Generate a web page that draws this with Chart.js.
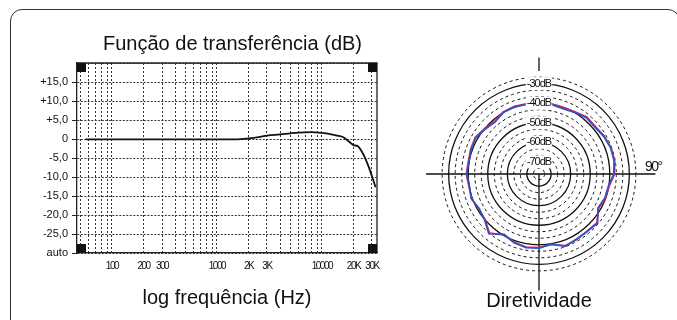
<!DOCTYPE html>
<html>
<head>
<meta charset="utf-8">
<script src="https://cdn.jsdelivr.net/npm/chart.js@4.4.1/dist/chart.umd.min.js"></script>
<style>
  html, body { margin: 0; padding: 0; background: #fff; }
  body { width: 677px; height: 320px; position: relative; overflow: hidden; }
  .moldura { position: absolute; left: 10px; top: 9px; width: 670px; height: 400px; border: 1px solid #333; border-radius: 12px; box-sizing: border-box; }
  #resposta { position: absolute; left: 0; top: 0; }
  #polar { position: absolute; left: 419px; top: 0; }
</style>
</head>
<body>
<div class="moldura"></div>
<canvas id="resposta" width="465" height="320"></canvas>
<canvas id="polar" width="258" height="320"></canvas>
<script>
const FONTE = "'Liberation Sans', Arial, sans-serif";

// resposta em frequência
const FREQ_HZ = [56, 100, 200, 500, 1000, 1500, 2000, 2500, 3000, 4000, 5000, 6000, 8000, 10000, 12000, 14000, 16000, 18000, 20000, 22000, 24000, 26000, 28000, 30000, 32500];
const GANHO_DB = [-0.1, -0.1, -0.1, -0.1, -0.1, -0.1, 0.15, 0.5, 0.9, 1.2, 1.5, 1.7, 1.8, 1.6, 1.3, 0.9, 0.45, -0.6, -1.6, -1.9, -3.3, -5.2, -7.4, -9.8, -12.7];

// grade do eixo x (log) e rótulos
const GRADE_HZ = [50, 60, 70, 80, 90, 100, 200, 300, 400, 500, 600, 700, 800, 900, 1000, 2000, 3000, 4000, 5000, 6000, 7000, 8000, 9000, 10000, 20000, 30000];
const X_TICK_HZ = [100, 200, 300, 1000, 2000, 3000, 10000, 20000, 30000];
const X_TICK_TEXTO = ['100', '200', '300', '1000', '2K', '3K', '10000', '20K', '30K'];

const Y_TICK_DB = [20, 15, 10, 5, 0, -5, -10, -15, -20, -25, -30];
const Y_TICK_TEXTO = ['', '+15,0', '+10,0', '+5,0', '0', '-5,0', '-10,0', '-15,0', '-20,0', '-25,0', 'auto'];

// diretividade (dB) a cada 10 graus, 0° sem medida
const ANGULO_GRAUS = [0, 10, 20, 30, 40, 50, 60, 70, 80, 90, 100, 110, 120, 130, 140, 150, 160, 170, 180, 190, 200, 210, 220, 230, 240, 250, 260, 270, 280, 290, 300, 310, 320, 330, 340, 350];
const DIR_AZUL = [null, -40.1, -40.6, -39.8, -38.6, -38.9, -37.9, -37.2, -37.2, -38.0, -40.2, -40.4, -41.4, -37.1, -37.8, -37.8, -36.8, -39.8, -38.3, -38.0, -38.8, -40.6, -36.3, -39.8, -40.9, -39.3, -40.1, -39.3, -39.8, -39.3, -38.9, -40.4, -41.4, -39.8, -39.7, -40.1];
const DIR_VERMELHO = [null, -39.7, -40.1, -39.4, -38.2, -38.5, -37.6, -37.0, -36.9, -37.6, -39.8, -40.0, -41.0, -37.5, -38.0, -37.5, -37.2, -39.6, -38.6, -38.3, -39.1, -40.3, -36.8, -40.2, -40.5, -39.6, -39.8, -39.0, -39.5, -39.0, -38.6, -40.0, -41.0, -39.5, -39.4, -39.8];

const ROTULOS_DB = [-70, -60, -50, -40, -30];

// rótulos das escalas desenhados depois das séries (ticks.z = 1) ficam estreitos
const textoEstreito = espaco => ({
  id: 'textoEstreito',
  afterDatasetsDraw(chart) { chart.ctx.letterSpacing = espaco; },
  afterDraw(chart) { chart.ctx.letterSpacing = '0px'; }
});

// bordas superior/direita e quadrados dos cantos
const molduraGrafico = {
  id: 'molduraGrafico',
  afterDraw(chart) {
    const { ctx, chartArea: a } = chart;
    ctx.save();
    ctx.strokeStyle = '#222';
    ctx.lineWidth = 1.3;
    ctx.beginPath();
    ctx.moveTo(a.left, a.top);
    ctx.lineTo(a.right, a.top);
    ctx.lineTo(a.right, a.bottom);
    ctx.stroke();
    ctx.fillStyle = '#111';
    const q = 9;
    ctx.fillRect(a.left, a.top, q, q);
    ctx.fillRect(a.right - q, a.top, q, q);
    ctx.fillRect(a.left, a.bottom - q, q, q);
    ctx.fillRect(a.right - q, a.bottom - q, q, q);
    ctx.restore();
  }
};

new Chart(document.getElementById('resposta'), {
  type: 'line',
  data: {
    datasets: [{
      data: FREQ_HZ.map((f, i) => ({ x: f, y: GANHO_DB[i] })),
      borderColor: '#111',
      borderWidth: 1.8,
      pointRadius: 0,
      fill: false,
      cubicInterpolationMode: 'monotone'
    }]
  },
  options: {
    responsive: false,
    animation: false,
    layout: { padding: 0 },
    plugins: {
      legend: { display: false },
      tooltip: { enabled: false },
      title: {
        display: true,
        text: 'Função de transferência (dB)',
        color: '#111',
        font: { family: FONTE, size: 20, weight: 'normal' },
        padding: { top: 32, bottom: 7 }
      }
    },
    scales: {
      x: {
        type: 'logarithmic',
        min: 46.5,
        max: 33500,
        afterBuildTicks: s => { s.ticks = GRADE_HZ.map(v => ({ value: v })); },
        afterFit: s => { s.height = 67; },
        grid: { color: '#333', lineWidth: 1, drawTicks: false },
        border: { display: true, color: '#222', width: 1.3, dash: [2, 2] },
        ticks: {
          z: 1,
          autoSkip: false,
          maxRotation: 0,
          padding: 7,
          color: '#111',
          font: { family: FONTE, size: 10 },
          callback: v => {
            const i = X_TICK_HZ.indexOf(v);
            return i < 0 ? '' : X_TICK_TEXTO[i];
          }
        },
        title: {
          display: true,
          text: 'log frequência (Hz)',
          color: '#111',
          font: { family: FONTE, size: 20, weight: 'normal' },
          padding: { top: 0, bottom: 10 }
        }
      },
      y: {
        type: 'linear',
        min: -30,
        max: 20,
        afterBuildTicks: s => { s.ticks = Y_TICK_DB.map(v => ({ value: v })); },
        afterFit: s => { s.width = 77; },
        grid: {
          color: '#333',
          lineWidth: 1,
          tickLength: 5,
          tickColor: c => (c.tick && c.tick.value === 20) ? 'rgba(0,0,0,0)' : '#222'
        },
        border: { display: true, color: '#222', width: 1.3, dash: [2, 1.5] },
        ticks: {
          autoSkip: false,
          padding: 4,
          color: '#111',
          font: { family: FONTE, size: 11 },
          callback: v => {
            const i = Y_TICK_DB.indexOf(v);
            return i < 0 ? '' : Y_TICK_TEXTO[i];
          }
        }
      },
      // espaço à direita do gráfico, sem desenho
      margem: {
        type: 'linear',
        position: 'right',
        display: true,
        grid: { display: false },
        border: { display: false },
        ticks: { display: false },
        afterFit: s => { s.width = 88; }
      }
    }
  },
  plugins: [molduraGrafico, textoEstreito('-1.5px')]
});

// eixos em cruz e rótulo de 90°
const eixosPolares = {
  id: 'eixosPolares',
  beforeDatasetsDraw(chart) {
    const r = chart.scales.r;
    const { ctx } = chart;
    const cx = r.xCenter, cy = r.yCenter, R = r.drawingArea;
    const ext = R * 1.2;
    ctx.save();
    ctx.strokeStyle = '#111';
    ctx.lineWidth = 1.3;
    ctx.beginPath();
    ctx.moveTo(cx - ext * 0.97, cy);
    ctx.lineTo(cx + ext, cy);
    ctx.moveTo(cx, cy);
    ctx.lineTo(cx, cy + ext);
    ctx.moveTo(cx, cy - R - 6);
    ctx.lineTo(cx, cy - ext);
    ctx.stroke();
    ctx.fillStyle = '#111';
    ctx.font = '14px ' + FONTE;
    ctx.letterSpacing = '-1.5px';
    ctx.textAlign = 'left';
    ctx.textBaseline = 'alphabetic';
    ctx.fillText('90°', cx + R + 9, cy - 3);
    ctx.restore();
  }
};

const passo = 10 / 3;
const aneis = [];
for (let v = ROTULOS_DB[0] - passo; v < -25; v += passo) aneis.push(v);
const anelRotulado = v => ROTULOS_DB.some(d => Math.abs(d - v) < 0.01);

new Chart(document.getElementById('polar'), {
  type: 'radar',
  data: {
    labels: ANGULO_GRAUS,
    datasets: [
      {
        data: DIR_AZUL,
        borderColor: '#2c55cc',
        borderWidth: 1.7,
        pointRadius: 0,
        fill: false,
        spanGaps: false
      },
      {
        data: DIR_VERMELHO,
        borderColor: '#e8204c',
        borderWidth: 1.7,
        pointRadius: 0,
        fill: false,
        spanGaps: false
      }
    ]
  },
  options: {
    responsive: false,
    animation: false,
    layout: { padding: { left: 16, right: 34, top: 70, bottom: 0 } },
    plugins: {
      legend: { display: false },
      tooltip: { enabled: false },
      title: {
        display: true,
        position: 'bottom',
        text: 'Diretividade',
        color: '#111',
        font: { family: FONTE, size: 20, weight: 'normal' },
        padding: { top: 11, bottom: 7 }
      }
    },
    scales: {
      r: {
        min: -76.2,
        max: -26.6,
        startAngle: 0,
        afterBuildTicks: s => { s.ticks = aneis.map(v => ({ value: v })); },
        angleLines: { display: false },
        pointLabels: { display: false },
        grid: {
          circular: true,
          color: '#111',
          lineWidth: c => anelRotulado(c.tick.value) ? 1.3 : 1
        },
        border: { dash: c => anelRotulado(c.tick.value) ? [] : [3, 3] },
        ticks: {
          z: 1,
          autoSkip: false,
          color: '#111',
          font: { family: FONTE, size: 11 },
          showLabelBackdrop: c => anelRotulado(c.tick.value),
          backdropColor: '#fff',
          backdropPadding: { x: 1, y: 1 },
          callback: v => anelRotulado(v) ? Math.round(v) + 'dB' : ''
        }
      }
    }
  },
  plugins: [eixosPolares, textoEstreito('-1px')]
});
</script>
</body>
</html>
